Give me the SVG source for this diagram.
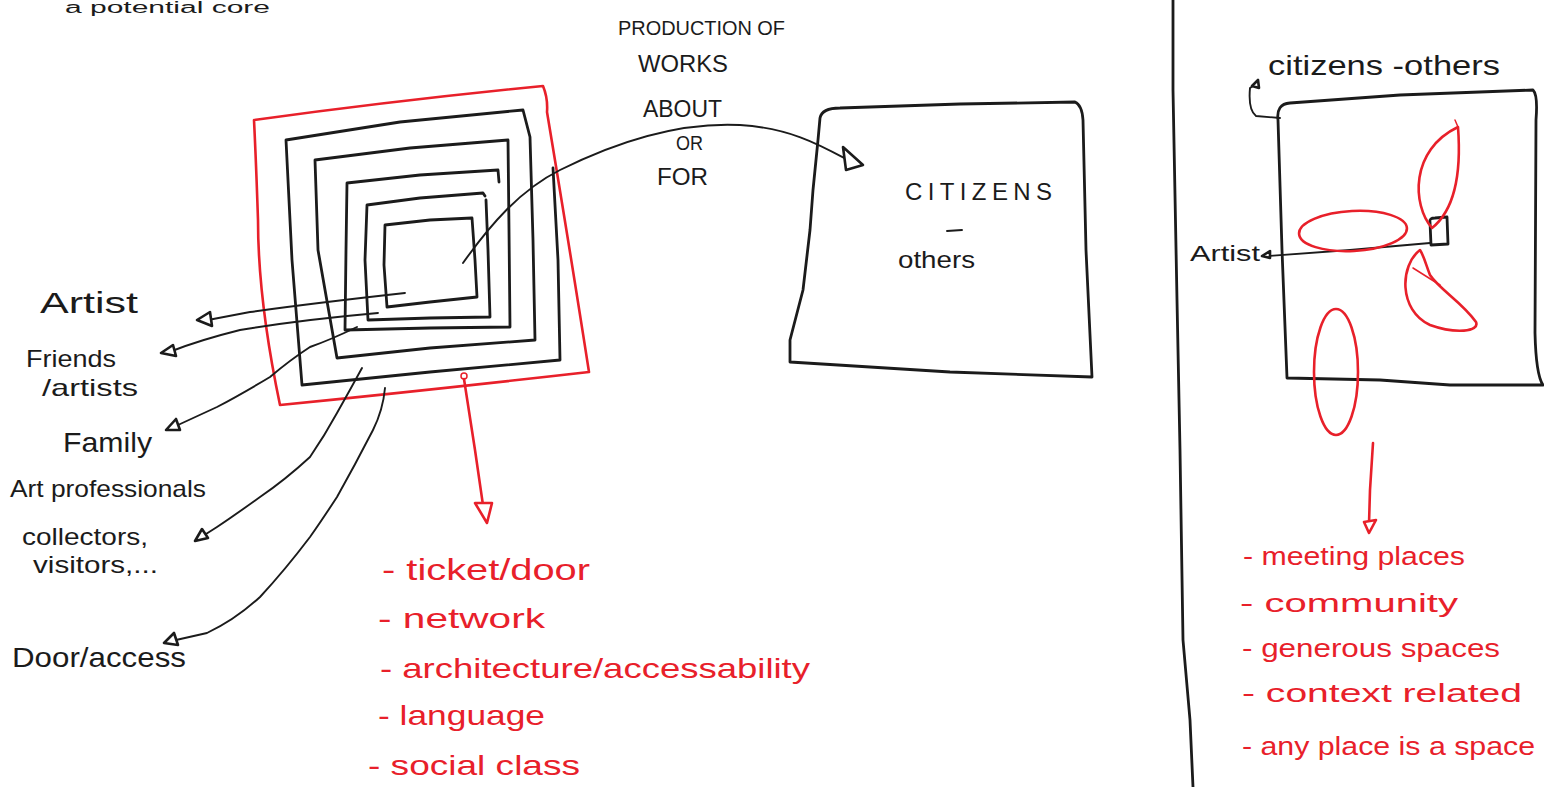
<svg xmlns="http://www.w3.org/2000/svg" width="1544" height="787" viewBox="0 0 1544 787">
<defs>
<style>
.k{fill:none;stroke:#1b1b1b;stroke-width:2.8;stroke-linecap:round;stroke-linejoin:round}
.kt{fill:none;stroke:#1b1b1b;stroke-width:1.9;stroke-linecap:round;stroke-linejoin:round}
.r{fill:none;stroke:#e8202a;stroke-width:2.6;stroke-linecap:round;stroke-linejoin:round}
.rt{fill:none;stroke:#e8202a;stroke-width:1.5;stroke-linecap:round;stroke-linejoin:round}
.ah{fill:#fff;stroke:#1b1b1b;stroke-width:2.6;stroke-linejoin:round}
.rah{fill:#fff;stroke:#e8202a;stroke-width:2.6;stroke-linejoin:round}
text{font-family:"Liberation Sans","DejaVu Sans",sans-serif;fill:#1b1b1b}
.red{fill:#e8202a}
</style>
</defs>
<rect width="1544" height="787" fill="#fff"/>

<text x="65" y="13" font-size="16" textLength="205" lengthAdjust="spacingAndGlyphs">a potential core</text>

<g id="outer-core">
<path class="r" d="M254,120 Q400,100 543,86 Q548,98 547,112 Q570,250 589,372 Q430,390 280,405 Q258,300 258,220 Q256,160 254,120 Z"/>
</g>

<g id="spiral">
<path class="k" d="M553,168 L558,260 L560,360 L430,372 L302,385 L292,260 L286,140 L400,122 L523,110 L530,137 L533,240 L535,340 L430,348 L337,358 L318,250 L315,160 L410,148 L508,140 L509,230 L510,327 L430,328 L345,330 L346,250 L347,183 L420,175 L498,170 L499,182"/>
<path class="k" d="M485,196 L483,193 L420,198 L367,205 L365,260 L368,320 L430,318 L490,317 L488,250 L486,200"/>
<path class="k" d="M385,225 L430,220 L472,218 L475,260 L477,297 L430,302 L387,307 L384,265 Z"/>
</g>

<g id="citizens-box">
<path class="k" d="M820,118 Q822,108 840,108 L960,104 L1075,102 Q1082,105 1083,120 L1086,250 L1092,377 L950,372 L790,362 L790,340 L803,290 L810,230 L813,190 L818,140 Z"/>
<text x="905" y="200" font-size="24" textLength="147" lengthAdjust="spacing">CITIZENS</text>
<path class="kt" d="M947,231 L962,230"/>
<text x="898" y="268" font-size="24" textLength="77" lengthAdjust="spacingAndGlyphs">others</text>
</g>

<g id="production-label">
<text x="618" y="35" font-size="21" textLength="167" lengthAdjust="spacingAndGlyphs">PRODUCTION OF</text>
<text x="638" y="72" font-size="24" textLength="90" lengthAdjust="spacingAndGlyphs">WORKS</text>
<text x="643" y="117" font-size="24" textLength="79" lengthAdjust="spacingAndGlyphs">ABOUT</text>
<text x="676" y="150" font-size="20" textLength="27" lengthAdjust="spacingAndGlyphs">OR</text>
<text x="657" y="185" font-size="24" textLength="51" lengthAdjust="spacingAndGlyphs">FOR</text>
</g>

<g id="left-labels">
<text x="40" y="313" font-size="30" textLength="98" lengthAdjust="spacingAndGlyphs">Artist</text>
<text x="26" y="367" font-size="24" textLength="90" lengthAdjust="spacingAndGlyphs">Friends</text>
<text x="42" y="396" font-size="24" textLength="96" lengthAdjust="spacingAndGlyphs">/artists</text>
<text x="63" y="452" font-size="28" textLength="89" lengthAdjust="spacingAndGlyphs">Family</text>
<text x="10" y="497" font-size="24" textLength="196" lengthAdjust="spacingAndGlyphs">Art professionals</text>
<text x="22" y="545" font-size="24" textLength="126" lengthAdjust="spacingAndGlyphs">collectors,</text>
<text x="33" y="573" font-size="24" textLength="125" lengthAdjust="spacingAndGlyphs">visitors,...</text>
<text x="12" y="667" font-size="28" textLength="174" lengthAdjust="spacingAndGlyphs">Door/access</text>
</g>

<g id="barriers-list">
<text class="red" x="382" y="580" font-size="30" textLength="208" lengthAdjust="spacingAndGlyphs">- ticket/door</text>
<text class="red" x="378" y="628" font-size="28" textLength="167" lengthAdjust="spacingAndGlyphs">- network</text>
<text class="red" x="380" y="678" font-size="28" textLength="430" lengthAdjust="spacingAndGlyphs">- architecture/accessability</text>
<text class="red" x="378" y="725" font-size="28" textLength="167" lengthAdjust="spacingAndGlyphs">- language</text>
<text class="red" x="368" y="775" font-size="28" textLength="212" lengthAdjust="spacingAndGlyphs">- social class</text>
</g>

<g id="separator">
<path class="k" d="M1173,0 L1173,90 L1177,300 L1180,450 L1183,640 L1190,720 L1193,787"/>
</g>

<g id="right-box">
<path class="k" d="M1278,120 Q1276,104 1290,103 L1400,95 L1533,90 Q1538,95 1536,120 L1535,333 Q1536,375 1543,385 L1450,385 L1380,380 L1287,378 L1282,250 Z"/>
<text x="1268" y="75" font-size="28" textLength="232" lengthAdjust="spacingAndGlyphs">citizens -others</text>
<path class="kt" d="M1280,118 L1256,116 Q1248,110 1250,88 L1256,84"/>
<path class="ah" d="M1252,86 L1258,80 L1259,88 Z"/>
<text x="1190" y="261" font-size="22" textLength="70" lengthAdjust="spacingAndGlyphs">Artist</text>
<path class="kt" d="M1268,256 L1350,250 L1430,243"/>
<path class="ah" d="M1262,256 L1270,251 L1270,258 Z"/>
<path class="k" d="M1430,222 Q1429,218 1435,218 L1447,217 L1448,244 L1431,245 Z"/>
</g>

<g id="right-red-shapes">
<ellipse class="r" cx="1353" cy="231" rx="54" ry="20" transform="rotate(-3 1353 231)"/>
<path class="r" d="M1432,228 C1412,205 1410,150 1458,127 C1462,180 1452,212 1432,228 Z"/>
<path class="rt" d="M1458,127 L1455,120"/>
<path class="r" d="M1420,250 C1400,265 1398,310 1430,325 C1455,334 1480,332 1476,322 C1462,302 1440,290 1430,275 C1426,265 1424,256 1420,250 Z"/>
<path class="rt" d="M1413,268 L1440,285"/>
<ellipse class="r" cx="1336" cy="372" rx="22" ry="63"/>
<path class="r" d="M1373,443 L1370,490 L1369,524"/>
<path class="rah" d="M1364,522 L1376,520 L1369,533 Z"/>
</g>

<g id="qualities-list">
<text class="red" x="1243" y="565" font-size="26" textLength="222" lengthAdjust="spacingAndGlyphs">- meeting places</text>
<text class="red" x="1240" y="612" font-size="26" textLength="218" lengthAdjust="spacingAndGlyphs">- community</text>
<text class="red" x="1242" y="657" font-size="26" textLength="258" lengthAdjust="spacingAndGlyphs">- generous spaces</text>
<text class="red" x="1242" y="702" font-size="26" textLength="280" lengthAdjust="spacingAndGlyphs">- context related</text>
<text class="red" x="1242" y="755" font-size="26" textLength="293" lengthAdjust="spacingAndGlyphs">- any place is a space</text>
</g>

<g id="connectors">
<path class="kt" d="M463,263 C490,225 520,190 560,170 C620,140 680,122 740,125 C790,128 820,145 848,160"/>
<path class="ah" d="M843,147 L863,165 L846,170 Z"/>
<path class="kt" d="M405,293 C360,298 300,305 250,312 L208,320"/>
<path class="ah" d="M197,320 L210,312 L212,326 Z"/>
<path class="kt" d="M378,313 Q300,320 240,330 Q200,340 172,351"/>
<path class="ah" d="M161,353 L173,345 L176,356 Z"/>
<path class="kt" d="M357,327 Q330,340 310,347 Q290,360 270,377 Q240,395 217,407 L178,425"/>
<path class="ah" d="M166,430 L176,419 L180,430 Z"/>
<path class="kt" d="M362,368 Q350,390 337,413 Q325,435 310,457 Q285,480 260,497 Q235,515 217,527 L206,534"/>
<path class="ah" d="M195,541 L202,529 L208,538 Z"/>
<path class="kt" d="M385,388 Q383,410 373,430 Q355,465 337,497 Q322,520 310,537 Q285,570 260,597 Q235,620 207,633 L176,640"/>
<path class="ah" d="M164,643 L174,633 L178,645 Z"/>
<circle cx="464" cy="376" r="3" class="rt"/>
<path class="r" d="M464,379 L475,450 L484,512"/>
<path class="rah" d="M475,503 L492,503 L487,523 Z"/>
</g>
</svg>
